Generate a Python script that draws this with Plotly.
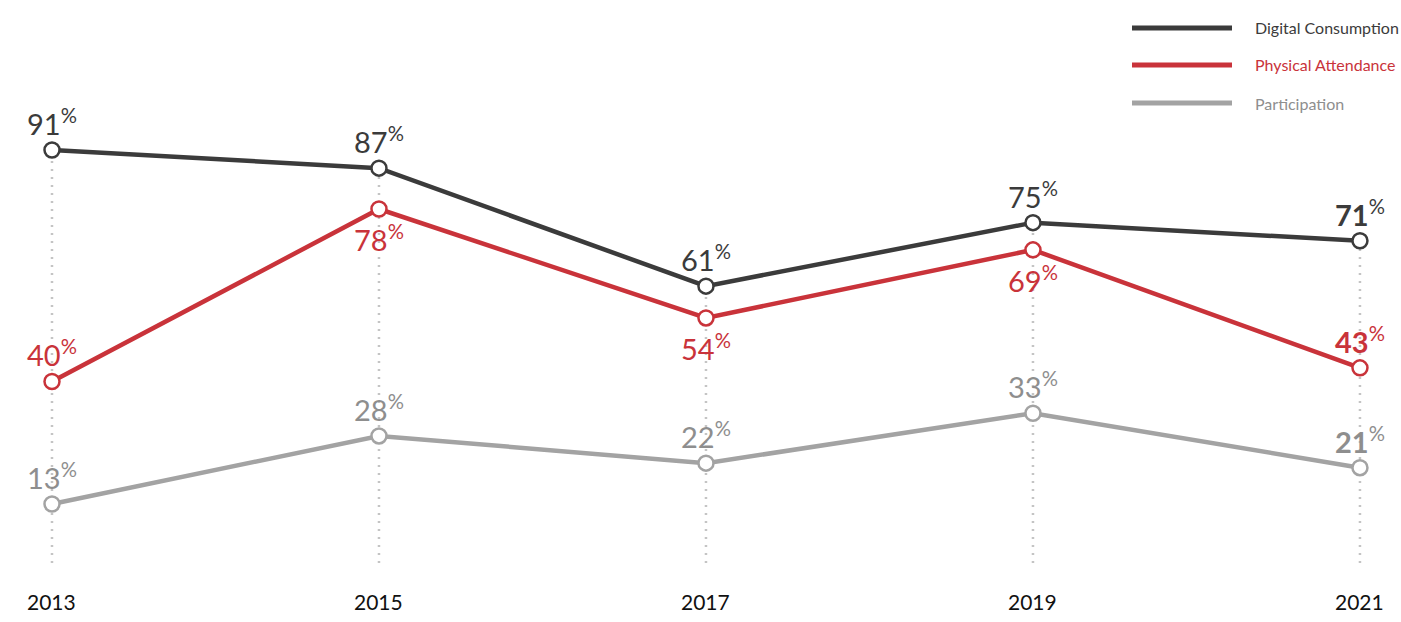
import plotly.graph_objects as go

years = [2013, 2015, 2017, 2019, 2021]
year_labels = ["2013", "2015", "2017", "2019", "2021"]
digital = [91, 87, 61, 75, 71]
physical = [40, 78, 54, 69, 43]
participation = [13, 28, 22, 33, 21]

series = [
    ("Digital Consumption", digital, "#3b3b3b", "#3b3b3b", ["up", "up", "up", "up", "up"]),
    ("Physical Attendance", physical, "#c9333a", "#c9333a", ["up", "down", "down", "down", "up"]),
    ("Participation", participation, "#a3a3a3", "#8e8e8e", ["up", "up", "up", "up", "up"]),
]

FONT = "Lato"
fig = go.Figure()

# dotted guides
tops = [max(v) for v in zip(digital, physical, participation)]
for x, t in zip(years, tops):
    fig.add_trace(go.Scatter(x=[x, x], y=[0, t], mode="lines",
                             line=dict(color="#c4c4c4", width=2.5, dash="2px,6px"),
                             hoverinfo="skip", showlegend=False))

for name, vals, col, tcol, pos in series:
    fig.add_trace(go.Scatter(
        x=years, y=vals, mode="lines+markers", name=name,
        line=dict(color=col, width=4.5),
        marker=dict(size=15, color="white", line=dict(color=col, width=2.5)),
        showlegend=False, cliponaxis=False))
    for i, (x, v, p) in enumerate(zip(years, vals, pos)):
        last = i == len(years) - 1
        num = f"<b>{v}</b>" if last else f"{v}"
        fig.add_annotation(x=x, y=v, text=f"{num}<sup>%</sup>", showarrow=False,
                           xanchor="center", yanchor="middle",
                           yshift=28 if p == "up" else -29,
                           font=dict(family=FONT, size=29, color=tcol))

for x, lab in zip(years, year_labels):
    fig.add_annotation(x=x, y=-8.4, text=lab, showarrow=False, xanchor="center",
                       yanchor="middle",
                       font=dict(family=FONT, size=21, color="#111111"))

# manual legend
for k, (name, vals, col, tcol, pos) in enumerate(series):
    ypix = [28, 65, 103][k]
    yp = 1 - ypix / 622
    fig.add_shape(type="line", xref="paper", yref="paper",
                  x0=1132 / 1401, x1=1232 / 1401, y0=yp, y1=yp,
                  line=dict(color=col, width=5))
    fig.add_annotation(xref="paper", yref="paper", x=1253 / 1401, y=yp,
                       text=name, showarrow=False, xanchor="left", yanchor="middle",
                       font=dict(family=FONT, size=16, color=tcol))

fig.update_layout(
    width=1401, height=622,
    margin=dict(l=0, r=0, t=0, b=0),
    paper_bgcolor="white", plot_bgcolor="white",
    xaxis=dict(range=[2012.682, 2021.251], visible=False),
    yaxis=dict(range=[-13.0, 124.06], visible=False),
    showlegend=False,
)

fig.write_html("out.html")
